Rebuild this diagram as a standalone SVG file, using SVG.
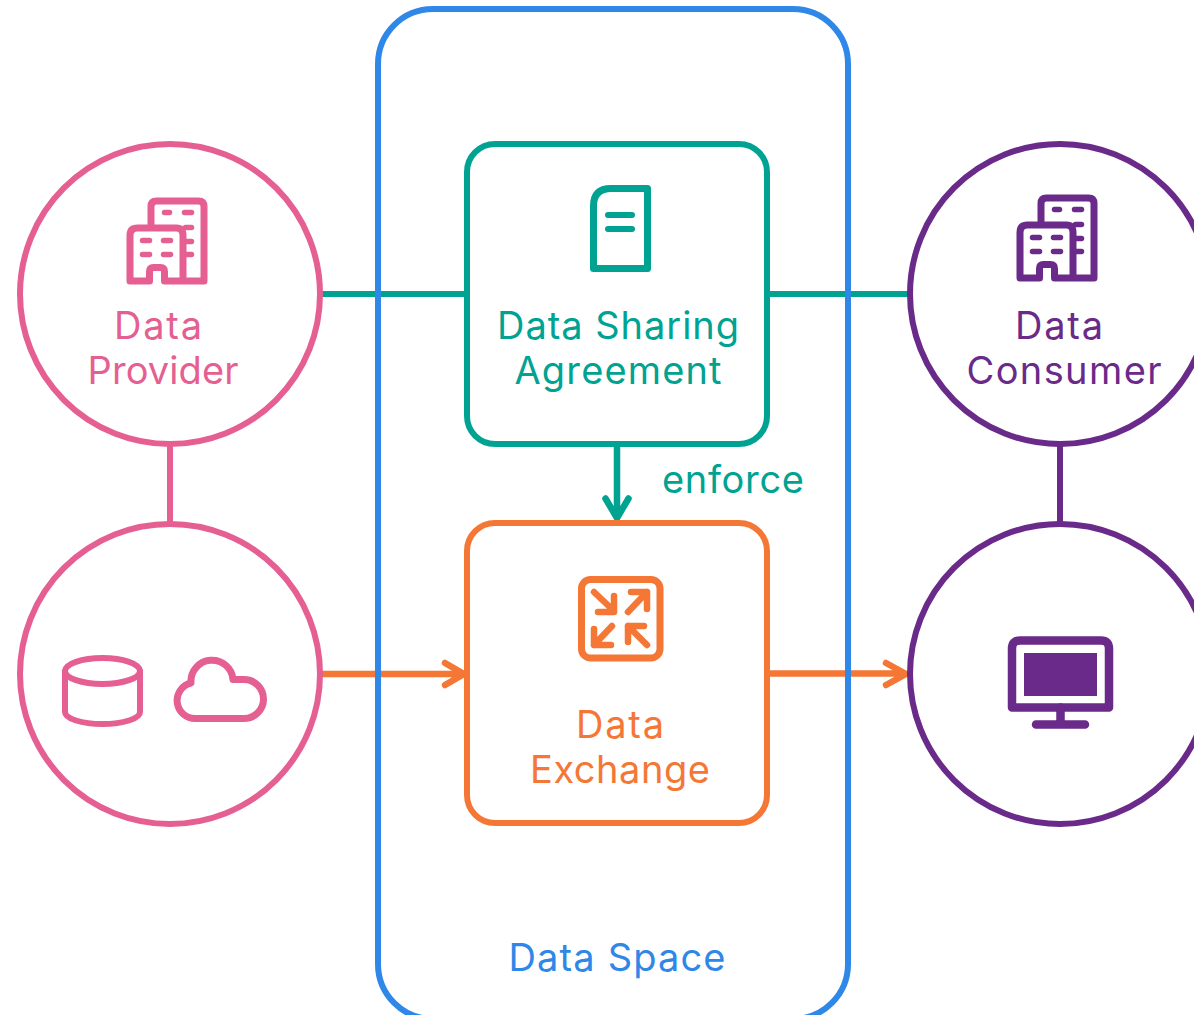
<svg xmlns="http://www.w3.org/2000/svg" width="1194" height="1015" viewBox="0 0 1194 1015">
<style>
.s{fill:none;stroke-width:6;stroke-linecap:round;stroke-linejoin:round}
.h{stroke-width:6.500}
.i{fill:none;stroke-width:7;stroke-linecap:round;stroke-linejoin:round}
.w{fill:none;stroke-width:5.500;stroke-linecap:round}
.b{stroke:#2f87e8}.g{stroke:#00a392}.o{stroke:#f47735}.p{stroke:#e55f92}.v{stroke:#6a2a8a}
text{font-family:"Inter","Noto Sans","Liberation Sans",sans-serif;font-size:38px;text-anchor:middle}
.tb{fill:#2f87e8}.tg{fill:#00a392}.to{fill:#f47735}.tp{fill:#e55f92}.tv{fill:#6a2a8a}
</style>
<defs>
<g id="bld">
<path class="i" d="M24.500 30V9Q24.500 3.500 30 3.500H72Q77.500 3.500 77.500 9V83.500H56.500M3.500 83.500V38Q3.500 30.500 11 30.500H50Q56.500 30.500 56.500 38V83.500H38V74Q38 70 34 70H27Q23 70 23 74V83.500Z"/>
<path class="w" d="M38 15H43M58 15H65M59 30H65M59 44H65M59 57H65M16 43H23M37 43H44M16 57H23M37 57H44"/>
</g>
</defs>
<g id="connectors">
<path class="s g" d="M323 294H466"/>
<path class="s g" d="M768 294H909"/>
<path class="s p" d="M170 446V522"/>
<path class="s v" d="M1060 446V522"/>
<path class="s h g" d="M617 446V517M605.500 498.500L617 518L628.500 498.500"/>
<path class="s h o" d="M323 674H463M445 663L464 674L445 685"/>
<path class="s h o" d="M769 673.500H905M886 663L906 674L886 685"/>
</g>
<g id="data-space">
<rect class="s b" x="378" y="9" width="470" height="1010" rx="55"/>
<text class="tb" x="617" y="971" textLength="217">Data Space</text>
</g>
<g id="data-provider">
<circle class="s p" cx="170" cy="294" r="150"/>
<g class="p" transform="translate(126.500 197.500)"><use href="#bld"/></g>
<text class="tp" x="158" y="339" textLength="88">Data</text>
<text class="tp" x="163" y="384" textLength="151">Provider</text>
</g>
<g id="data-source">
<circle class="s p" cx="170" cy="674" r="150"/>
<g class="i p">
<ellipse cx="102.500" cy="671" rx="37.500" ry="13" stroke-width="6"/>
<path stroke-width="6" d="M65 671V712A37.500 12 0 0 0 140 712V671"/>
<path d="M196 718.500H244A19.500 19.500 0 0 0 244 679.500H233A21 21 0 0 0 191 683A18 18 0 0 0 196 718.500Z"/>
</g>
</g>
<g id="data-sharing-agreement">
<rect class="s g" x="467" y="144" width="300" height="300" rx="28"/>
<g class="i g">
<path d="M593.500 268.500V206Q593.500 188.500 611 188.500H647.500V268.500Z"/>
<path stroke-width="6" d="M608 215H632M608 229H632"/>
</g>
<text class="tg" x="618" y="339" textLength="242">Data Sharing</text>
<text class="tg" x="618" y="384" textLength="207">Agreement</text>
</g>
<g id="enforce-label"><text class="tg" x="733" y="493" textLength="142">enforce</text></g>
<g id="data-exchange">
<rect class="s o" x="467" y="523" width="300" height="300" rx="28"/>
<g class="i o">
<rect x="581.500" y="579.500" width="78.500" height="78.500" rx="9"/>
<path stroke-width="6.500" d="M594 592L614 611M598 612H614V596M628 612L647 592M631 592H647V609M612 626L594 645M594 629V645H611M647 645L628 626M644 626H628V642"/>
</g>
<text class="to" x="620" y="738" textLength="88">Data</text>
<text class="to" x="620" y="783" textLength="180">Exchange</text>
</g>
<g id="data-consumer">
<circle class="s v" cx="1060" cy="294" r="150"/>
<g class="v" transform="translate(1016.500 194.500)"><use href="#bld"/></g>
<text class="tv" x="1059" y="339" textLength="88">Data</text>
<text class="tv" x="1064" y="384" textLength="195">Consumer</text>
</g>
<g id="consumer-system">
<circle class="s v" cx="1060" cy="674" r="150"/>
<g class="v" fill="none" stroke-width="8.500" stroke-linecap="round" stroke-linejoin="round">
<path d="M1020 640.500H1101Q1109 640.500 1109 648.500V707.500H1012V648.500Q1012 640.500 1020 640.500Z"/>
<path d="M1060.500 707.500V724.500M1036 724.500H1085"/>
</g>
<rect x="1024" y="653" width="73" height="43" fill="#6a2a8a"/>
</g>
</svg>
